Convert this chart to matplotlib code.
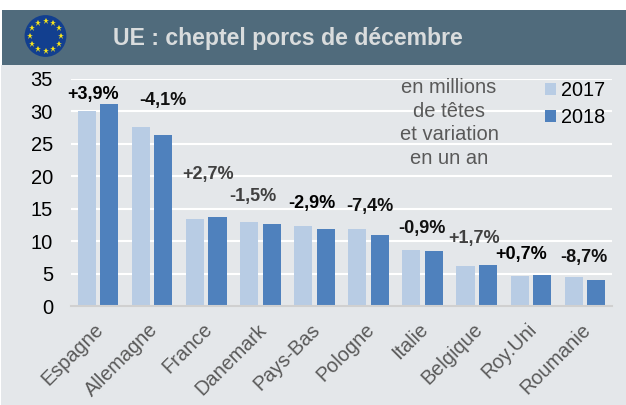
import numpy as np
import matplotlib
matplotlib.use("Agg")
import matplotlib.pyplot as plt
from matplotlib.patches import Rectangle, Circle
from matplotlib.transforms import ScaledTranslation

plt.rcParams["font.family"] = ["Liberation Sans", "DejaVu Sans"]

pays = ["Espagne", "Allemagne", "France", "Danemark", "Pays-Bas",
        "Pologne", "Italie", "Belgique", "Roy.Uni", "Roumanie"]
v2017 = [30.0, 27.6, 13.4, 12.9, 12.3, 11.9, 8.6, 6.2, 4.7, 4.4]
v2018 = [31.1, 26.4, 13.7, 12.7, 11.9, 11.0, 8.5, 6.3, 4.8, 4.0]
variation = ["+3,9%", "-4,1%", "+2,7%", "-1,5%", "-2,9%",
             "-7,4%", "-0,9%", "+1,7%", "+0,7%", "-8,7%"]
couleur_var = ["black", "#111111", "#404040", "#404040", "black",
               "#111111", "#111111", "#404040", "black", "#111111"]
# decalage des etiquettes en pixels par rapport au haut des barres
dx_var = [-5, 11, 2, -7, -3, 1, -1, -3, -10, -1]
dy_var = [10, 26, 43, 26, 23, 22, 22, 27, 20, 20]

W, H = 626, 405
fig = plt.figure(figsize=(W / 100, H / 100), dpi=100, facecolor="white")

def fx(px):
    return px / W

def fy(py):
    return 1 - py / H

# fonds
fig.add_artist(Rectangle((fx(1), 0), fx(625), fy(65), transform=fig.transFigure,
                         color="#e4e7ea", lw=0, zorder=-2))
fig.add_artist(Rectangle((fx(2), fy(65)), fx(624), 55 / H, transform=fig.transFigure,
                         color="#506b7c", lw=0, zorder=-2))
fig.text(fx(113), fy(38), "UE : cheptel porcs de décembre", color="#d9dcdd",
         fontsize=16.6, fontweight="bold", va="center", ha="left")

# drapeau
flag = fig.add_axes([fx(22.5), fy(59), 46 / W, 46 / H])
flag.set_xlim(-1.1, 1.1)
flag.set_ylim(-1.1, 1.1)
flag.axis("off")
flag.patch.set_alpha(0)
flag.add_patch(Circle((0, 0), 1.0, color="#123f8f", lw=0))
ang = np.arange(12) * np.pi / 6
flag.plot(0.72 * np.cos(ang), 0.72 * np.sin(ang), ls="none", marker="*",
          ms=4.5, color="#f7e51c", mew=0)

# graphique
ax = fig.add_axes([fx(71), fy(306), 541 / W, (306 - 79) / H])
ax.patch.set_alpha(0)
x = np.arange(len(pays))
larg = 0.335
dec = 0.208
ax.bar(x - dec, v2017, larg, color="#b8cce4", label="2017", zorder=3)
ax.bar(x + dec, v2018, larg, color="#4f81bd", label="2018", zorder=3)
ax.set_xlim(-0.5, len(pays) - 0.5)
ax.set_ylim(0, 35)
ax.set_yticks(range(0, 36, 5))
ax.yaxis.grid(True, color="white", lw=1.5, zorder=1)
ax.set_axisbelow(True)
for s in ["top", "right", "left"]:
    ax.spines[s].set_visible(False)
ax.spines["bottom"].set_color("#d0d0d0")
ax.spines["bottom"].set_linewidth(1.5)
ax.spines["bottom"].set_zorder(4)
ax.tick_params(axis="y", length=0, labelsize=14.5, pad=13, labelcolor="black")
ax.tick_params(axis="x", length=0, labelsize=14.3, pad=10, labelcolor="#595959")
ax.set_xticks(x)
ax.set_xticklabels(pays, rotation=45, ha="right", rotation_mode="anchor")
for lab in ax.get_xticklabels():
    lab.set_transform(lab.get_transform() + ScaledTranslation(-0.04, 0, fig.dpi_scale_trans))

for i, lab in enumerate(variation):
    ax.annotate(lab, (i, max(v2017[i], v2018[i])), xytext=(dx_var[i], dy_var[i]),
                textcoords="offset pixels", ha="center", va="center",
                fontsize=13, fontweight="bold", color=couleur_var[i], zorder=5)

fig.text(fx(449), fy(123), "en millions\nde têtes\net variation\nen un an",
         color="#595959", fontsize=14.5, ha="center", va="center", linespacing=1.32)

ax.legend(loc="upper left", bbox_to_anchor=(fx(545), fy(81)),
          bbox_transform=fig.transFigure, frameon=False, fontsize=14.3,
          handlelength=0.55, handleheight=0.55, handletextpad=0.28,
          labelspacing=0.4, borderpad=0, borderaxespad=0)

fig.savefig("out.png", dpi=100)
plt.close(fig)
